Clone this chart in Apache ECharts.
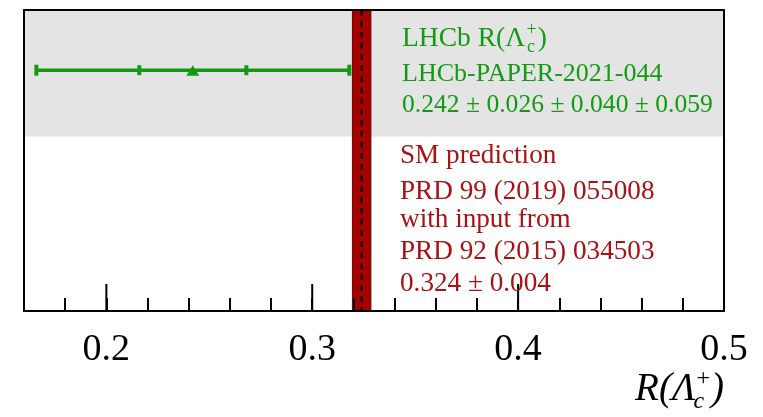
<!DOCTYPE html>
<html><head><meta charset="utf-8">
<script src="https://cdn.jsdelivr.net/npm/echarts@6/dist/echarts.min.js"></script>
<style>html,body{margin:0;padding:0;background:#fff}#c{width:763px;height:417px}</style>
</head><body><div id="c"></div>
<script>
// ---- data ----
const measCenter = [0.242];
const measStatErr = [0.026];
const measTotErr = [0.076];
const measRow = [0.8];
const smValue = [0.324];
const smErr = [0.004];
const majorTicks = [0.2, 0.3, 0.4];
const tickLabels = ['0.2', '0.3', '0.4', '0.5'];
const greyBand = [0.58, 1];
const greenLines = ['LHCb-PAPER-2021-044', '0.242 \u00b1 0.026 \u00b1 0.040 \u00b1 0.059'];
const redLines = ['SM prediction', 'PRD 99 (2019) 055008', 'with input from', 'PRD 92 (2015) 034503', '0.324 \u00b1 0.004'];

// ---- styles ----
const GREEN = '#129b12';
const RED = '#aa1114';
const SERIF = '"Liberation Serif", "DejaVu Serif", serif';

const ctx = document.createElement('canvas').getContext('2d');
function tw(str, fs, italic) { ctx.font = (italic ? 'italic ' : '') + fs + 'px ' + SERIF; return ctx.measureText(str).width; }
function txt(x, base, str, fs, color, italic, align) {
  return { type: 'text', x: x, y: base - 0.3375 * fs, z: 100,
    style: { text: str, fontSize: fs, fontFamily: SERIF, fontStyle: italic ? 'italic' : 'normal',
      fill: color, align: align || 'left', verticalAlign: 'middle' } };
}

const graphics = [];
// green title with Λc+
(function () {
  const x0 = 402, b = 48, fs = 27.5, fss = 18;
  const w1 = tw('LHCb R(\u039b', fs);
  graphics.push(txt(x0, b, 'LHCb R(\u039b', fs, GREEN));
  const xs = x0 + w1 + 1.5;
  graphics.push(txt(xs, b - 12, '+', fss, GREEN));
  graphics.push(txt(xs + 0.5, b + 5, 'c', fss, GREEN));
  const ws = Math.max(tw('+', fss), tw('c', fss));
  graphics.push(txt(xs + ws + 1, b, ')', fs, GREEN));
})();
const greenBase = [83, 114];
const greenSize = [26, 25.6];
greenLines.forEach((s, i) => graphics.push(txt(402, greenBase[i], s, greenSize[i], GREEN)));
const redBase = [165, 201, 229, 261, 293];
redLines.forEach((s, i) => graphics.push(txt(400, redBase[i], s, 27.2, RED)));
// axis title R(Λc+)
(function () {
  const xr = 724, b = 403, fs = 39, fss = 24;
  const wp = tw(')', fs, true);
  graphics.push(txt(xr, b, ')', fs, '#000', true, 'right'));
  const ws = Math.max(tw('+', fss, false), tw('c', fss, true));
  const xs = xr - wp - ws - 1;
  graphics.push(txt(xs, b - 16, '+', fss, '#000', false));
  graphics.push(txt(xs - 3, b + 7, 'c', fss, '#000', true));
  graphics.push(txt(xs - 1, b, 'R(\u039b', fs, '#000', true, 'right'));
})();

const chart = echarts.init(document.getElementById('c'), null, { renderer: 'canvas' });
const axLine = { color: '#000', width: 2 };
chart.setOption({
  animation: false,
  backgroundColor: '#fff',
  grid: { left: 24, right: 39, top: 10, bottom: 106, containLabel: false },
  xAxis: [{
    type: 'value', min: 0.16, max: 0.5, interval: 0.02, position: 'bottom', z: 10,
    axisLine: { show: true, onZero: false, lineStyle: axLine },
    axisTick: { show: true, inside: true, length: 13, lineStyle: axLine },
    axisLabel: {
      show: true, margin: 20, fontFamily: SERIF, fontSize: 38, color: '#000',
      showMinLabel: true, showMaxLabel: true,
      formatter: function (v) {
        const r = Math.round(v * 10);
        if (Math.abs(v * 10 - r) > 1e-6) return '';
        const s = (r / 10).toFixed(1);
        return tickLabels.indexOf(s) >= 0 ? s : '';
      }
    },
    splitLine: { show: false }
  }, {
    type: 'value', min: 0.16, max: 0.5, position: 'top', z: 10,
    axisLine: { show: true, onZero: false, lineStyle: axLine },
    axisTick: { show: false }, axisLabel: { show: false }, splitLine: { show: false }
  }],
  yAxis: [{
    type: 'value', min: 0, max: 1, position: 'left', z: 10,
    axisLine: { show: true, onZero: false, lineStyle: axLine },
    axisTick: { show: false }, axisLabel: { show: false }, splitLine: { show: false }
  }, {
    type: 'value', min: 0, max: 1, position: 'right', z: 10,
    axisLine: { show: true, onZero: false, lineStyle: axLine },
    axisTick: { show: false }, axisLabel: { show: false }, splitLine: { show: false }
  }],
  series: [{
    type: 'line', data: [], z: 1, silent: true,
    markArea: { silent: true, itemStyle: { color: '#e4e4e4' },
      data: [[{ yAxis: greyBand[0] }, { yAxis: greyBand[1] }]] }
  }, {
    type: 'custom', z: 3, silent: true,
    data: smValue.map((v, i) => [v, smErr[i]]),
    encode: { x: 0 },
    renderItem: function (params, api) {
      const v = api.value(0), e = api.value(1);
      const a = api.coord([v - e, 1]), b = api.coord([v + e, 0]), m = api.coord([v, 0]);
      return { type: 'group', children: [
        { type: 'rect', shape: { x: a[0] - 1, y: a[1], width: b[0] - a[0] + 2, height: b[1] - a[1] },
          style: { fill: '#a50000', stroke: '#6a0000', lineWidth: 1 } },
        { type: 'line', shape: { x1: m[0], y1: a[1], x2: m[0], y2: b[1] },
          style: { stroke: '#000', lineWidth: 2, lineDash: [6, 5] } }
      ] };
    }
  }, {
    type: 'custom', z: 11, silent: true,
    data: majorTicks.map(v => [v, 0]),
    encode: { x: 0, y: 1 },
    renderItem: function (params, api) {
      const p = api.coord([api.value(0), 0]);
      return { type: 'line', shape: { x1: p[0], y1: p[1], x2: p[0], y2: p[1] - 27 },
        style: { stroke: '#000', lineWidth: 2 } };
    }
  }, {
    type: 'custom', z: 6, silent: true,
    data: measCenter.map((c, i) => [c, measStatErr[i], measTotErr[i], measRow[i]]),
    encode: { x: 0, y: 3 },
    renderItem: function (params, api) {
      const c = api.value(0), se = api.value(1), te = api.value(2), y = api.value(3);
      const pc = api.coord([c, y]);
      const lo = api.coord([c - te, y]), hi = api.coord([c + te, y]);
      const sl = api.coord([c - se, y]), sh = api.coord([c + se, y]);
      const st = { fill: GREEN };
      const cap = (x, w, h) => ({ type: 'rect', shape: { x: x - w / 2, y: pc[1] - h / 2, width: w, height: h }, style: st });
      return { type: 'group', children: [
        { type: 'line', shape: { x1: lo[0], y1: pc[1], x2: hi[0], y2: pc[1] }, style: { stroke: GREEN, lineWidth: 3.5 } },
        cap(lo[0], 4, 11), cap(hi[0], 4, 11), cap(sl[0], 4, 10), cap(sh[0], 4, 10),
        { type: 'polygon', shape: { points: [[pc[0] - 6.5, pc[1] + 5.5], [pc[0] + 6.5, pc[1] + 5.5], [pc[0], pc[1] - 5]] }, style: st }
      ] };
    }
  }],
  graphic: graphics
});
</script>
</body></html>
